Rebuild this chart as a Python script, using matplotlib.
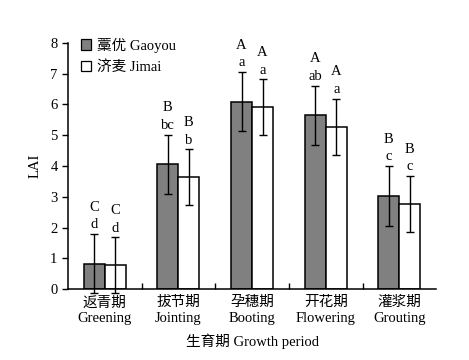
import matplotlib.pyplot as plt
import matplotlib.patches as mpatches
import numpy as np

plt.rcParams['font.family'] = ['Liberation Serif', 'Noto Sans CJK SC']
plt.rcParams['font.weight'] = 'light'

stages = ['返青期\nGreening', '拔节期\nJointing', '孕穗期\nBooting', '开花期\nFlowering', '灌浆期\nGrouting']
gaoyou = [0.83, 4.05, 6.09, 5.64, 3.02]
gaoyou_err = [0.96, 0.97, 0.97, 0.97, 0.97]
jimai = [0.78, 3.63, 5.90, 5.28, 2.76]
jimai_err = [0.90, 0.91, 0.91, 0.91, 0.91]
upper = ['C', 'B', 'A', 'A', 'B']
gaoyou_lower = ['d', 'bc', 'a', 'ab', 'c']
jimai_lower = ['d', 'b', 'a', 'a', 'c']

fig = plt.figure(figsize=(4.69, 3.6), dpi=100)
ax = fig.add_axes([0.145, 0.197, 0.785, 0.684])

x = np.arange(len(stages))
w = 0.285
ekw = dict(ecolor='black', elinewidth=1.0, capthick=1.0, clip_on=False)
b1 = ax.bar(x - w / 2, gaoyou, w, color='#808080', edgecolor='black', linewidth=1.1,
            yerr=gaoyou_err, capsize=3, error_kw=ekw)
b2 = ax.bar(x + w / 2, jimai, w, color='white', edgecolor='black', linewidth=1.1,
            yerr=jimai_err, capsize=3, error_kw=ekw)
for lines in (b1.errorbar.lines[1], b2.errorbar.lines[1]):
    for c in lines:
        c.set_clip_on(False)

for i in range(len(stages)):
    for xi, top, low in ((x[i] - w / 2, gaoyou[i] + gaoyou_err[i], gaoyou_lower[i]),
                          (x[i] + w / 2, jimai[i] + jimai_err[i], jimai_lower[i])):
        ax.annotate(low, (xi, top), xytext=(0, 2), textcoords='offset points',
                    ha='center', va='bottom', fontsize=10.5)
        ax.annotate(upper[i], (xi, top), xytext=(0, 14.5), textcoords='offset points',
                    ha='center', va='bottom', fontsize=10.5)

ax.set_xlim(-0.5, 4.5)
ax.set_ylim(0, 8)
ax.set_yticks(range(0, 9))
ax.tick_params(axis='y', direction='out', length=4, width=1, labelsize=10.5)
ax.set_xticks(x)
ax.set_xticklabels(stages, fontsize=10.5, linespacing=1.3)
ax.tick_params(axis='x', length=0, pad=5)
ax.set_xticks(np.arange(0.5, 4.5, 1), minor=True)
ax.tick_params(axis='x', which='minor', direction='in', length=4, width=1)
ax.spines['top'].set_visible(False)
ax.spines['right'].set_visible(False)
ax.spines['left'].set_linewidth(1.1)
ax.spines['bottom'].set_linewidth(1.1)
ax.set_ylabel('LAI', fontsize=10.5, labelpad=6)
ax.set_xlabel('生育期 Growth period', fontsize=10.5, labelpad=6)

h1 = mpatches.Patch(facecolor='#808080', edgecolor='black', linewidth=0.9)
h2 = mpatches.Patch(facecolor='white', edgecolor='black', linewidth=0.9)
ax.legend([h1, h2], ['藁优 Gaoyou', '济麦 Jimai'], loc='upper left',
          bbox_to_anchor=(0.0, 1.075), frameon=False, fontsize=10.5,
          handlelength=0.7, handleheight=0.7, handletextpad=0.4, labelspacing=0.55)

fig.savefig('out.png', dpi=100)
